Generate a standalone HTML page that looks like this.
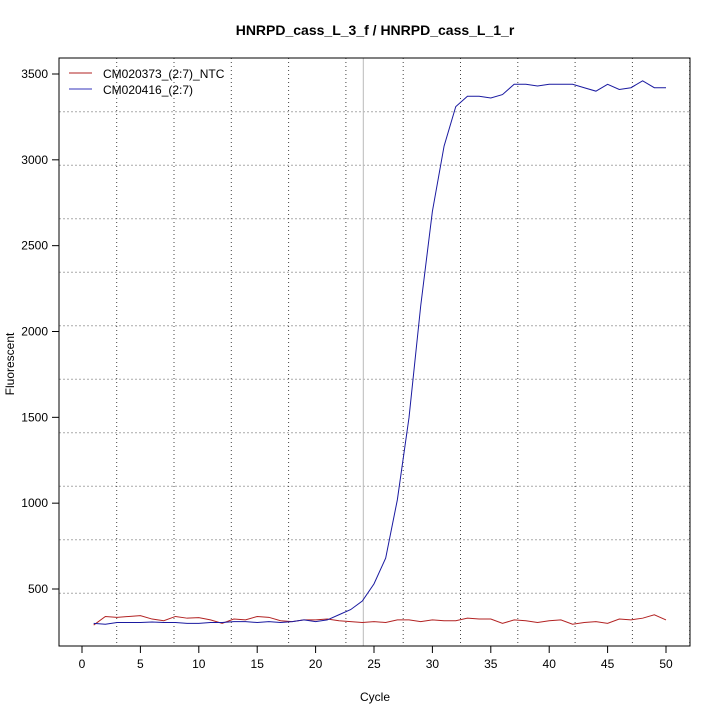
<!DOCTYPE html><html><head><style>body{margin:0;background:#fff}svg{display:block}</style></head><body>
<svg id="s" width="720" height="720" xmlns="http://www.w3.org/2000/svg" font-family="Liberation Sans, sans-serif" font-size="12">
<rect width="720" height="720" fill="#fff"/>
<text x="375" y="35" text-anchor="middle" font-weight="bold" font-size="14">HNRPD_cass_L_3_f / HNRPD_cass_L_1_r</text>
<text x="375" y="701" text-anchor="middle">Cycle</text>
<text transform="translate(14,364) rotate(-90)" text-anchor="middle">Fluorescent</text>
<g id="g"></g>
<rect x="59" y="58" width="631" height="588" fill="none" stroke="#000"/>
<line x1="69" y1="73" x2="92" y2="73" stroke="#b22222"/><text x="103" y="78">CM020373_(2:7)_NTC</text>
<line x1="69" y1="89" x2="92" y2="89" stroke="#3333bb"/><text x="103" y="94">CM020416_(2:7)</text>
</svg>
<script>
var g=document.getElementById('g'),h='';
function X(c){return 82+c*11.68}function Y(v){return 589-(v-500)*0.17167}
for(var i=0;i<10;i++){var y=111.7+i*53.5;h+='<line x1="59" x2="690" y1="'+y+'" y2="'+y+'" stroke="#aaa" stroke-dasharray="2,2"/>';}
for(var i=0;i<12;i++){var x=116.7+i*57.3;if(x<690)h+='<line y1="58" y2="646" x1="'+x+'" x2="'+x+'" stroke="#444" stroke-dasharray="1,3"/>';}
h+='<line x1="363.3" x2="363.3" y1="58" y2="646" stroke="#bbb"/>';
for(var c=0;c<=50;c+=5){h+='<line x1="'+X(c)+'" x2="'+X(c)+'" y1="646" y2="653" stroke="#000"/><text x="'+X(c)+'" y="668" text-anchor="middle">'+c+'</text>';}
for(var v=500;v<=3500;v+=500){h+='<line x1="52" x2="59" y1="'+Y(v)+'" y2="'+Y(v)+'" stroke="#000"/><text x="48" y="'+(Y(v)+4)+'" text-anchor="end">'+v+'</text>';}
var r=[290,340,335,340,345,325,315,340,330,333,320,300,325,320,340,335,315,310,320,320,325,315,310,305,310,305,320,320,310,320,315,315,330,325,325,300,320,315,305,315,320,295,305,310,300,325,320,330,350,320];
var b=[300,295,305,305,305,308,305,305,300,300,305,305,310,310,305,310,305,310,320,310,320,350,380,430,530,680,1020,1500,2150,2700,3080,3310,3370,3370,3360,3380,3440,3440,3430,3440,3440,3440,3420,3400,3440,3410,3420,3460,3420,3420];
function pl(a,col){return '<polyline fill="none" stroke="'+col+'" points="'+a.map(function(v,i){return X(i+1)+','+Y(v)}).join(' ')+'"/>';}
h+=pl(r,'#b22222')+pl(b,'#1a1aa0');
g.innerHTML=h;
</script></body></html>
